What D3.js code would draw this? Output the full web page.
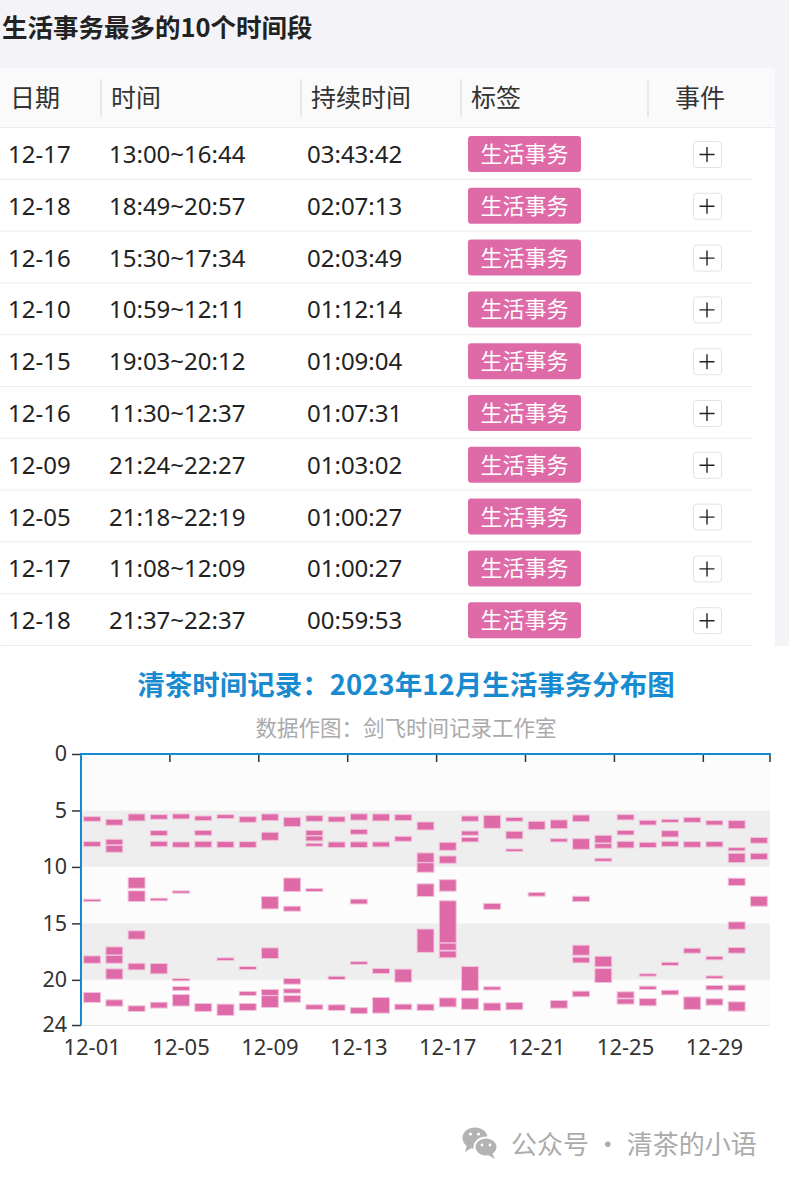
<!DOCTYPE html>
<html><head><meta charset="utf-8">
<script src="https://cdn.jsdelivr.net/npm/d3@7/dist/d3.min.js"></script>
<style>
body{margin:0;background:#fff;}
svg{display:block;font-family:"Noto Sans","Noto Sans CJK SC",sans-serif;}
</style>
</head><body>
<svg id="c" width="789" height="1185"></svg>
<script>
// ---------- table data ----------
const tableTitle = "生活事务最多的10个时间段";
const tableHeaders = ["日期", "时间", "持续时间", "标签", "事件"];
const tableDates = ["12-17","12-18","12-16","12-10","12-15","12-16","12-09","12-05","12-17","12-18"];
const tableTimes = ["13:00~16:44","18:49~20:57","15:30~17:34","10:59~12:11","19:03~20:12","11:30~12:37","21:24~22:27","21:18~22:19","11:08~12:09","21:37~22:37"];
const tableDurations = ["03:43:42","02:07:13","02:03:49","01:12:14","01:09:04","01:07:31","01:03:02","01:00:27","01:00:27","00:59:53"];
const tableTag = "生活事务";

// ---------- chart data ----------
const chartTitle = "清茶时间记录：2023年12月生活事务分布图";
const chartSubtitle = "数据作图：剑飞时间记录工作室";
const days = ["12-01","12-02","12-03","12-04","12-05","12-06","12-07","12-08","12-09","12-10",
  "12-11","12-12","12-13","12-14","12-15","12-16","12-17","12-18","12-19","12-20",
  "12-21","12-22","12-23","12-24","12-25","12-26","12-27","12-28","12-29","12-30","12-31"];
const xLabelDays = ["12-01","12-05","12-09","12-13","12-17","12-21","12-25","12-29"];
const yTicks = [0, 5, 10, 15, 20, 24];
// [day, start hour, end hour]
const segments = [
  ["12-01",5.55,5.96],["12-01",7.76,8.2],["12-01",12.86,13.07],["12-01",17.88,18.53],["12-01",21.12,22.0],
  ["12-02",5.78,6.31],["12-02",7.55,8.05],["12-02",8.1,8.7],["12-02",17.08,17.8],["12-02",17.83,18.53],["12-02",19.03,19.94],["12-02",21.77,22.33],
  ["12-03",5.31,5.93],["12-03",10.94,11.89],["12-03",12.12,13.07],["12-03",15.66,16.4],["12-03",18.53,19.12],["12-03",22.3,22.8],
  ["12-04",5.37,5.78],["12-04",6.78,7.23],["12-04",7.73,8.2],["12-04",12.77,13.0],["12-04",18.55,19.47],["12-04",21.98,22.5],
  ["12-05",5.31,5.75],["12-05",7.79,8.26],["12-05",12.12,12.33],["12-05",19.88,20.09],["12-05",20.59,20.94],["12-05",21.3,22.32],
  ["12-06",5.49,5.9],["12-06",6.76,7.2],["12-06",7.73,8.26],["12-06",22.1,22.8],
  ["12-07",5.37,5.72],["12-07",7.76,8.29],["12-07",18.05,18.29],["12-07",22.15,23.16],
  ["12-08",5.55,6.05],["12-08",7.76,8.29],["12-08",18.82,19.09],["12-08",21.03,21.39],["12-08",22.1,22.71],
  ["12-09",5.31,5.9],["12-09",6.93,7.64],["12-09",12.63,13.72],["12-09",17.17,18.11],["12-09",20.85,21.38],["12-09",21.4,22.45],
  ["12-10",5.61,6.43],["12-10",10.98,12.18],["12-10",13.48,13.92],["12-10",19.88,20.38],["12-10",20.8,21.18],["12-10",21.39,21.98],
  ["12-11",5.46,5.96],["12-11",6.76,7.23],["12-11",7.26,7.7],["12-11",7.9,8.17],["12-11",11.92,12.18],["12-11",22.21,22.62],
  ["12-12",5.55,6.02],["12-12",7.79,8.29],["12-12",19.68,19.97],["12-12",22.21,22.71],
  ["12-13",5.3,5.86],["12-13",6.67,7.11],["12-13",7.78,8.28],["12-13",12.85,13.28],["12-13",18.38,18.63],["12-13",22.46,23.0],
  ["12-14",5.31,5.93],["12-14",7.79,8.23],["12-14",19.0,19.44],["12-14",21.57,22.95],
  ["12-15",5.37,5.9],["12-15",7.29,7.73],["12-15",19.05,20.2],["12-15",22.15,22.65],
  ["12-16",6.02,6.73],["12-16",8.76,9.6],["12-16",9.63,10.47],["12-16",11.5,12.62],["12-16",15.5,17.57],["12-16",22.15,22.71],
  ["12-17",7.82,8.53],["12-17",9.03,9.68],["12-17",11.13,12.15],["12-17",13.0,16.73],["12-17",16.75,17.38],["12-17",17.45,18.05],["12-17",21.6,22.4],
  ["12-18",5.49,5.96],["12-18",6.82,7.2],["12-18",7.38,7.79],["12-18",18.82,20.95],["12-18",21.62,22.62],
  ["12-19",5.43,6.58],["12-19",13.23,13.76],["12-19",20.61,20.9],["12-19",22.05,22.73],
  ["12-20",5.61,5.96],["12-20",6.84,7.52],["12-20",8.41,8.64],["12-20",22.0,22.65],
  ["12-21",5.96,6.7],["12-21",12.26,12.59],
  ["12-22",5.84,6.61],["12-22",7.5,7.79],["12-22",21.83,22.51],
  ["12-23",5.4,5.99],["12-23",7.5,8.44],["12-23",12.6,13.07],["12-23",16.93,17.82],["12-23",18.0,18.5],["12-23",21.0,21.5],
  ["12-24",7.2,7.88],["12-24",7.94,8.35],["12-24",9.23,9.5],["12-24",17.91,18.85],["12-24",19.0,20.24],
  ["12-25",5.37,5.84],["12-25",6.76,7.17],["12-25",7.73,8.32],["12-25",21.06,21.62],["12-25",21.68,22.15],
  ["12-26",5.87,6.29],["12-26",7.82,8.29],["12-26",19.46,19.68],["12-26",20.56,20.86],["12-26",21.66,22.3],
  ["12-27",5.78,6.05],["12-27",6.79,7.35],["12-27",7.73,8.2],["12-27",18.44,18.73],["12-27",20.92,21.33],
  ["12-28",5.61,6.05],["12-28",7.76,8.26],["12-28",17.2,17.64],["12-28",21.51,22.62],
  ["12-29",5.9,6.29],["12-29",7.76,8.23],["12-29",17.91,18.23],["12-29",19.65,19.88],["12-29",20.5,20.89],["12-29",21.68,22.24],
  ["12-30",5.9,6.61],["12-30",8.29,8.58],["12-30",8.79,9.62],["12-30",11.0,11.65],["12-30",14.87,15.52],["12-30",17.14,17.64],["12-30",20.47,20.94],["12-30",21.95,22.77],
  ["12-31",7.4,7.9],["12-31",8.79,9.35],["12-31",12.6,13.48]
];
const footerText = "公众号 · 清茶的小语";

// ---------- drawing ----------
const svg = d3.select("#c");
const PINK = "#de6aa8";

// backgrounds
svg.append("rect").attr("x",0).attr("y",0).attr("width",789).attr("height",646).attr("fill","#f4f4f8");
svg.append("rect").attr("x",0).attr("y",646).attr("width",789).attr("height",539).attr("fill","#ffffff");

// table title
svg.append("text").attr("x",2).attr("y",37).attr("font-size",25.5).attr("font-weight","bold")
  .attr("fill","#222").attr("font-family","'Noto Sans CJK SC',sans-serif").text(tableTitle);

// card
svg.append("rect").attr("x",0).attr("y",68).attr("width",775).attr("height",578).attr("fill","#fff").attr("rx",4);
svg.append("rect").attr("x",0).attr("y",68).attr("width",775).attr("height",59).attr("fill","#fafafa").attr("rx",4);
svg.append("line").attr("x1",0).attr("x2",775).attr("y1",127.5).attr("y2",127.5).attr("stroke","#ececec");

const colX = [10, 111, 311, 471];
const sepX = [101, 301, 461, 648];
sepX.forEach(x => svg.append("line").attr("x1",x).attr("x2",x).attr("y1",79).attr("y2",117)
  .attr("stroke","#e9e9e9").attr("stroke-width",2));
const headG = svg.append("g").attr("font-size",25).attr("fill","#333").attr("font-family","'Noto Sans CJK SC',sans-serif");
tableHeaders.forEach((h,i) => {
  const t = headG.append("text").attr("y",107).text(h);
  if (i < 4) t.attr("x", colX[i]); else t.attr("x", 700).attr("text-anchor","middle");
});

const rowH = 51.8;
const rowY = d3.scaleLinear().domain([0,1]).range([127, 127 + rowH]);
const rows = svg.append("g").selectAll("g").data(tableDates).join("g")
  .attr("transform",(d,i)=>`translate(0,${rowY(i)})`);
rows.append("line").attr("x1",0).attr("x2",752).attr("y1",rowH+0.5).attr("y2",rowH+0.5).attr("stroke","#ececec");
rows.append("text").attr("x",8).attr("y",36).attr("font-size",24).attr("fill","#222").text(d=>d);
rows.append("text").attr("x",109).attr("y",36).attr("font-size",24).attr("fill","#222").text((d,i)=>tableTimes[i]);
rows.append("text").attr("x",307).attr("y",36).attr("font-size",24).attr("fill","#222").text((d,i)=>tableDurations[i]);
rows.append("rect").attr("x",468).attr("y",9).attr("width",113).attr("height",36).attr("rx",3).attr("fill",PINK);
rows.append("text").attr("x",524.5).attr("y",35).attr("text-anchor","middle").attr("font-size",22)
  .attr("fill","#fff").attr("font-family","'Noto Sans CJK SC',sans-serif").text(tableTag);
rows.append("rect").attr("x",693.5).attr("y",14.5).attr("width",28).attr("height",26).attr("rx",3)
  .attr("fill","#fff").attr("stroke","#e2e2e2");
rows.append("path").attr("d","M699.5,27.5h15M707,20v15").attr("stroke","#222").attr("stroke-width",1.4);

// chart title
svg.append("text").attr("x",406).attr("y",695).attr("text-anchor","middle").attr("font-size",27.5)
  .attr("font-weight","bold").attr("fill","#188bd0").attr("font-family","'Noto Sans CJK SC',sans-serif").text(chartTitle);
svg.append("text").attr("x",406).attr("y",736).attr("text-anchor","middle").attr("font-size",21.5)
  .attr("fill","#aaaaaa").attr("font-family","'Noto Sans CJK SC',sans-serif").text(chartSubtitle);

// scales
const x = d3.scaleBand().domain(days).range([81, 770]).paddingInner(0).paddingOuter(0);
const y = d3.scaleLinear().domain([0, 24]).range([754, 1025]);

// split area
const areas = [[0,5,"#fcfcfc"],[5,10,"#eeeeee"],[10,15,"#fcfcfc"],[15,20,"#eeeeee"],[20,24,"#fcfcfc"]];
svg.append("g").selectAll("rect").data(areas).join("rect")
  .attr("x",81).attr("width",689).attr("y",d=>y(d[0])).attr("height",d=>y(d[1])-y(d[0])).attr("fill",d=>d[2]);
svg.append("line").attr("x1",81).attr("x2",770).attr("y1",y(24)+0.5).attr("y2",y(24)+0.5).attr("stroke","#e4e4e4");

// bars
const bw = x.bandwidth()*0.76;
svg.append("g").selectAll("rect").data(segments).join("rect")
  .attr("x", d => x(d[0]) + (x.bandwidth()-bw)/2)
  .attr("width", bw)
  .attr("y", d => y(d[1]))
  .attr("height", d => Math.max(1, y(d[2]) - y(d[1])))
  .attr("fill", PINK).attr("stroke","#f2c3dc").attr("stroke-width",1);

// y axis
const yAxis = svg.append("g").attr("transform","translate(81,0)")
  .call(d3.axisLeft(y).tickValues(yTicks).tickSize(9).tickPadding(5));
yAxis.select(".domain").remove();
yAxis.selectAll(".tick line").attr("stroke","#333").attr("stroke-width",1.5);
yAxis.selectAll(".tick text").attr("font-size",21.5).attr("fill","#333").attr("font-family","'Noto Sans',sans-serif");

// x axis ticks (band boundaries every 4 days + end)
const tickIdx = [0,4,8,12,16,20,24,28];
const tickXs = tickIdx.map(i => x(days[i])).concat([x.range()[1]]);
svg.append("g").selectAll("line").data(tickXs).join("line")
  .attr("x1",d=>d).attr("x2",d=>d).attr("y1",y(0)).attr("y2",y(0)+8)
  .attr("stroke","#333").attr("stroke-width",1.5);
svg.append("g").selectAll("text").data(xLabelDays).join("text")
  .attr("x",d=>x(d)+x.bandwidth()/2).attr("y",1055).attr("text-anchor","middle")
  .attr("font-size",22).attr("fill","#333").text(d=>d);

// axis lines
svg.append("line").attr("x1",80).attr("x2",771).attr("y1",y(0)).attr("y2",y(0)).attr("stroke","#168ad0").attr("stroke-width",2);
svg.append("line").attr("x1",81).attr("x2",81).attr("y1",y(0)).attr("y2",y(24)).attr("stroke","#168ad0").attr("stroke-width",2);

// footer: wechat icon + text
const ic = svg.append("g").attr("fill","#b3b3b3");
ic.append("ellipse").attr("cx",475).attr("cy",1138).attr("rx",12.5).attr("ry",10.5);
ic.append("path").attr("d","M467,1145 L465,1152 L473,1147 Z");
ic.append("ellipse").attr("cx",486).attr("cy",1147).attr("rx",11.5).attr("ry",9.5).attr("stroke","#fff").attr("stroke-width",2);
ic.append("path").attr("d","M492,1153 L495,1159 L488,1155 Z");
ic.append("circle").attr("cx",470.5).attr("cy",1134).attr("r",1.6).attr("fill","#fff");
ic.append("circle").attr("cx",478.5).attr("cy",1134).attr("r",1.6).attr("fill","#fff");
ic.append("circle").attr("cx",482).attr("cy",1145).attr("r",1.4).attr("fill","#fff");
ic.append("circle").attr("cx",490).attr("cy",1145).attr("r",1.4).attr("fill","#fff");
svg.append("text").attr("x",511).attr("y",1154).attr("font-size",26).attr("fill","#ababab")
  .attr("font-family","'Noto Sans CJK SC',sans-serif").text(footerText);
</script>
</body></html>
